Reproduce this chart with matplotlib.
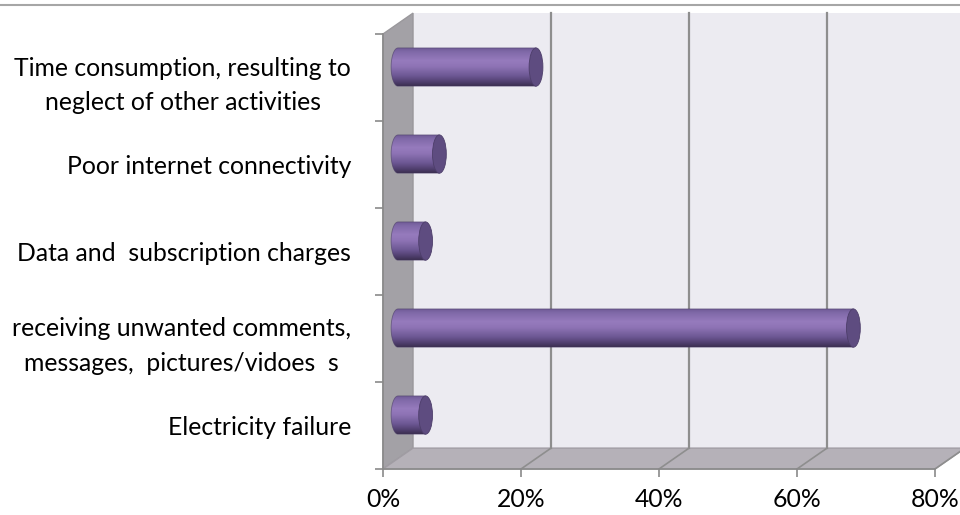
import numpy as np
import matplotlib
matplotlib.use("Agg")
import matplotlib.pyplot as plt
from matplotlib.patches import Polygon, Ellipse, PathPatch
from matplotlib.path import Path
from matplotlib.colors import LinearSegmentedColormap
from matplotlib.lines import Line2D

# data, top to bottom
categories = ["Time consumption, resulting to\nneglect of other activities",
              "Poor internet connectivity",
              "Data and  subscription charges",
              "receiving unwanted comments,\nmessages,  pictures/vidoes  s",
              "Electricity failure"]
values = [20, 6, 4, 66, 4]
xticks = [0, 20, 40, 60, 80]
xlabels = ["0%", "20%", "40%", "60%", "80%"]

plt.rcParams['font.family'] = ['Lato', 'DejaVu Sans']

fig = plt.figure(figsize=(9.6, 5.15), dpi=100)
ax = fig.add_axes([383/960, 46/515, 552/960, 435/515])
ax.set_xlim(0, 80)
ax.set_ylim(0, 5)
ax.patch.set_visible(False)

# 3d depth offsets in data units
dx = 4.35
dy = 0.24
n = len(categories)
xmax = xticks[-1]

wall_c = '#ecebf1'
side_c = '#a3a1a6'
floor_c = '#b5b1b8'
grid_c = '#8e8e8e'

ax.add_patch(Polygon([(dx, dy), (xmax + dx, dy), (xmax + dx, n + dy), (dx, n + dy)],
                     closed=True, fc=wall_c, ec='none', clip_on=False, zorder=0))
ax.add_patch(Polygon([(0, 0), (0, n), (dx, n + dy), (dx, dy)],
                     closed=True, fc=side_c, ec='#9a989c', lw=1, clip_on=False, zorder=1))
ax.add_patch(Polygon([(0, 0), (xmax, 0), (xmax + dx, dy), (dx, dy)],
                     closed=True, fc=floor_c, ec='#a09ca3', lw=1, clip_on=False, zorder=1))
for v in xticks[1:]:
    ax.plot([v + dx, v + dx], [dy, n + dy], color=grid_c, lw=1.6, clip_on=False, zorder=1)
    ax.plot([v, v + dx], [0, dy], color=grid_c, lw=1.2, clip_on=False, zorder=1)

# cylinders
cmap = LinearSegmentedColormap.from_list('cyl', [
    (0.0, '#6c5892'), (0.12, '#8069a8'), (0.35, '#967bbd'), (0.5, '#8e73b5'),
    (0.75, '#6b5692'), (0.9, '#4f3e6d'), (1.0, '#3b2f50')])
grad = np.linspace(0, 1, 256).reshape(-1, 1)
h = 0.44
rx = 1.0
t = np.linspace(np.pi / 2, 3 * np.pi / 2, 40)
for i, v in enumerate(values):
    yc = n - i - 0.5 + dy / 2
    x0 = dx / 2
    x1 = dx / 2 + v
    top, bot = yc + h / 2, yc - h / 2
    pts = [(x1, top), (x0, top)]
    pts += [(x0 + rx * np.cos(a), yc + h / 2 * np.sin(a)) for a in t]
    pts += [(x0, bot), (x1, bot), (x1, top)]
    body = PathPatch(Path(pts, closed=True), fc='none', ec='#4a3b66', lw=0.6,
                     alpha=0.6, zorder=3)
    ax.add_patch(body)
    im = ax.imshow(grad, cmap=cmap, aspect='auto', origin='upper',
                   extent=(x0 - rx, x1, bot, top), zorder=2.9, interpolation='bilinear')
    im.set_clip_path(body)
    ax.add_patch(Ellipse((x1, yc), 2 * rx, h, fc='#5e4c80', ec='#4d3e6a',
                         lw=0.6, zorder=4))

ax.set_xlim(0, 80)
ax.set_ylim(0, 5)

for s in ['top', 'right']:
    ax.spines[s].set_visible(False)
for s in ['left', 'bottom']:
    ax.spines[s].set_color('#8a8a8a')
    ax.spines[s].set_linewidth(1.2)
    ax.spines[s].set_zorder(1.5)

ax.set_xticks(xticks)
ax.set_xticklabels(xlabels)
ax.set_yticks(range(n + 1))
ax.set_yticklabels([])
ax.set_yticks([n - i - 0.5 for i in range(n)], minor=True)
ax.set_yticklabels(categories, minor=True)
ax.tick_params(axis='both', which='major', length=6, width=1.2, color='#8a8a8a',
               labelsize=17.8, labelcolor='black')
ax.tick_params(axis='x', pad=8)
ax.tick_params(axis='y', which='minor', length=0, pad=23, labelsize=17.8)
for lab in ax.get_yticklabels(minor=True):
    lab.set_multialignment('center')
    lab.set_linespacing(1.6)

fig.add_artist(Line2D([0, 1], [1 - 5/515, 1 - 5/515], color='#a6a6a6', lw=1.5))

fig.savefig('out.png', dpi=100)
